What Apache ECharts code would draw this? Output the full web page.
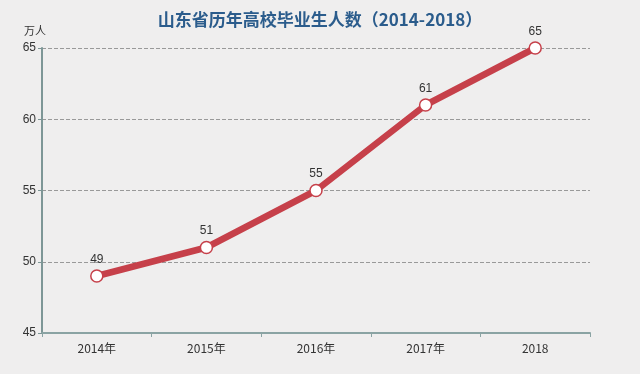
<!DOCTYPE html>
<html><head><meta charset="utf-8">
<script src="https://cdn.jsdelivr.net/npm/echarts@6/dist/echarts.min.js"></script>
<style>html,body{margin:0;padding:0;background:#efeeee;}#c{width:640px;height:374px;}</style>
</head><body><div id="c"></div>
<script>
const categories = ['2014年','2015年','2016年','2017年','2018'];
const values = [49, 51, 55, 61, 65];
const yTicks = {min:45, max:65, interval:5};
const title = '山东省历年高校毕业生人数（2014-2018）';
const unit = '万人';

const chart = echarts.init(document.getElementById('c'));
chart.setOption({
  backgroundColor: '#efeeee',
  title: {text: title, left: 'center', top: 6,
    textStyle:{color:'#2b5c8c', fontSize:17, fontWeight:'bold', fontFamily:'Noto Sans CJK SC'}},
  grid: {left: 42, right: 50, top: 48, bottom: 41},
  xAxis: {type:'category', data: categories, boundaryGap:true,
    axisLine:{lineStyle:{color:'#8aa3a3', width:2}},
    axisTick:{show:true, lineStyle:{color:'#8aa3a3'}, length:4},
    axisLabel:{color:'#333', fontSize:12, margin:9, fontFamily:'Noto Sans CJK SC'}},
  yAxis: {type:'value', min:yTicks.min, max:yTicks.max, interval:yTicks.interval,
    name: unit, nameGap: 12, nameTextStyle:{color:'#333', fontSize:11, align:'right', padding:[0,-4,0,0], fontFamily:'Noto Sans CJK SC'},
    axisLine:{show:true, lineStyle:{color:'#7d9696', width:2}},
    axisTick:{show:true, length:4, lineStyle:{color:'#7d9696'}},
    axisLabel:{color:'#333', fontSize:12, margin:6},
    splitLine:{lineStyle:{color:'#999', type:'dashed', width:1}}},
  series: [{type:'line', data: values, smooth:false,
    lineStyle:{color:'#c6404a', width:6.5},
    itemStyle:{color:'#fff', borderColor:'#c6404a', borderWidth:1.5},
    symbol:'circle', symbolSize:12,
    label:{show:true, position:'top', color:'#333', fontSize:12, distance:4}}]
});
</script></body></html>
